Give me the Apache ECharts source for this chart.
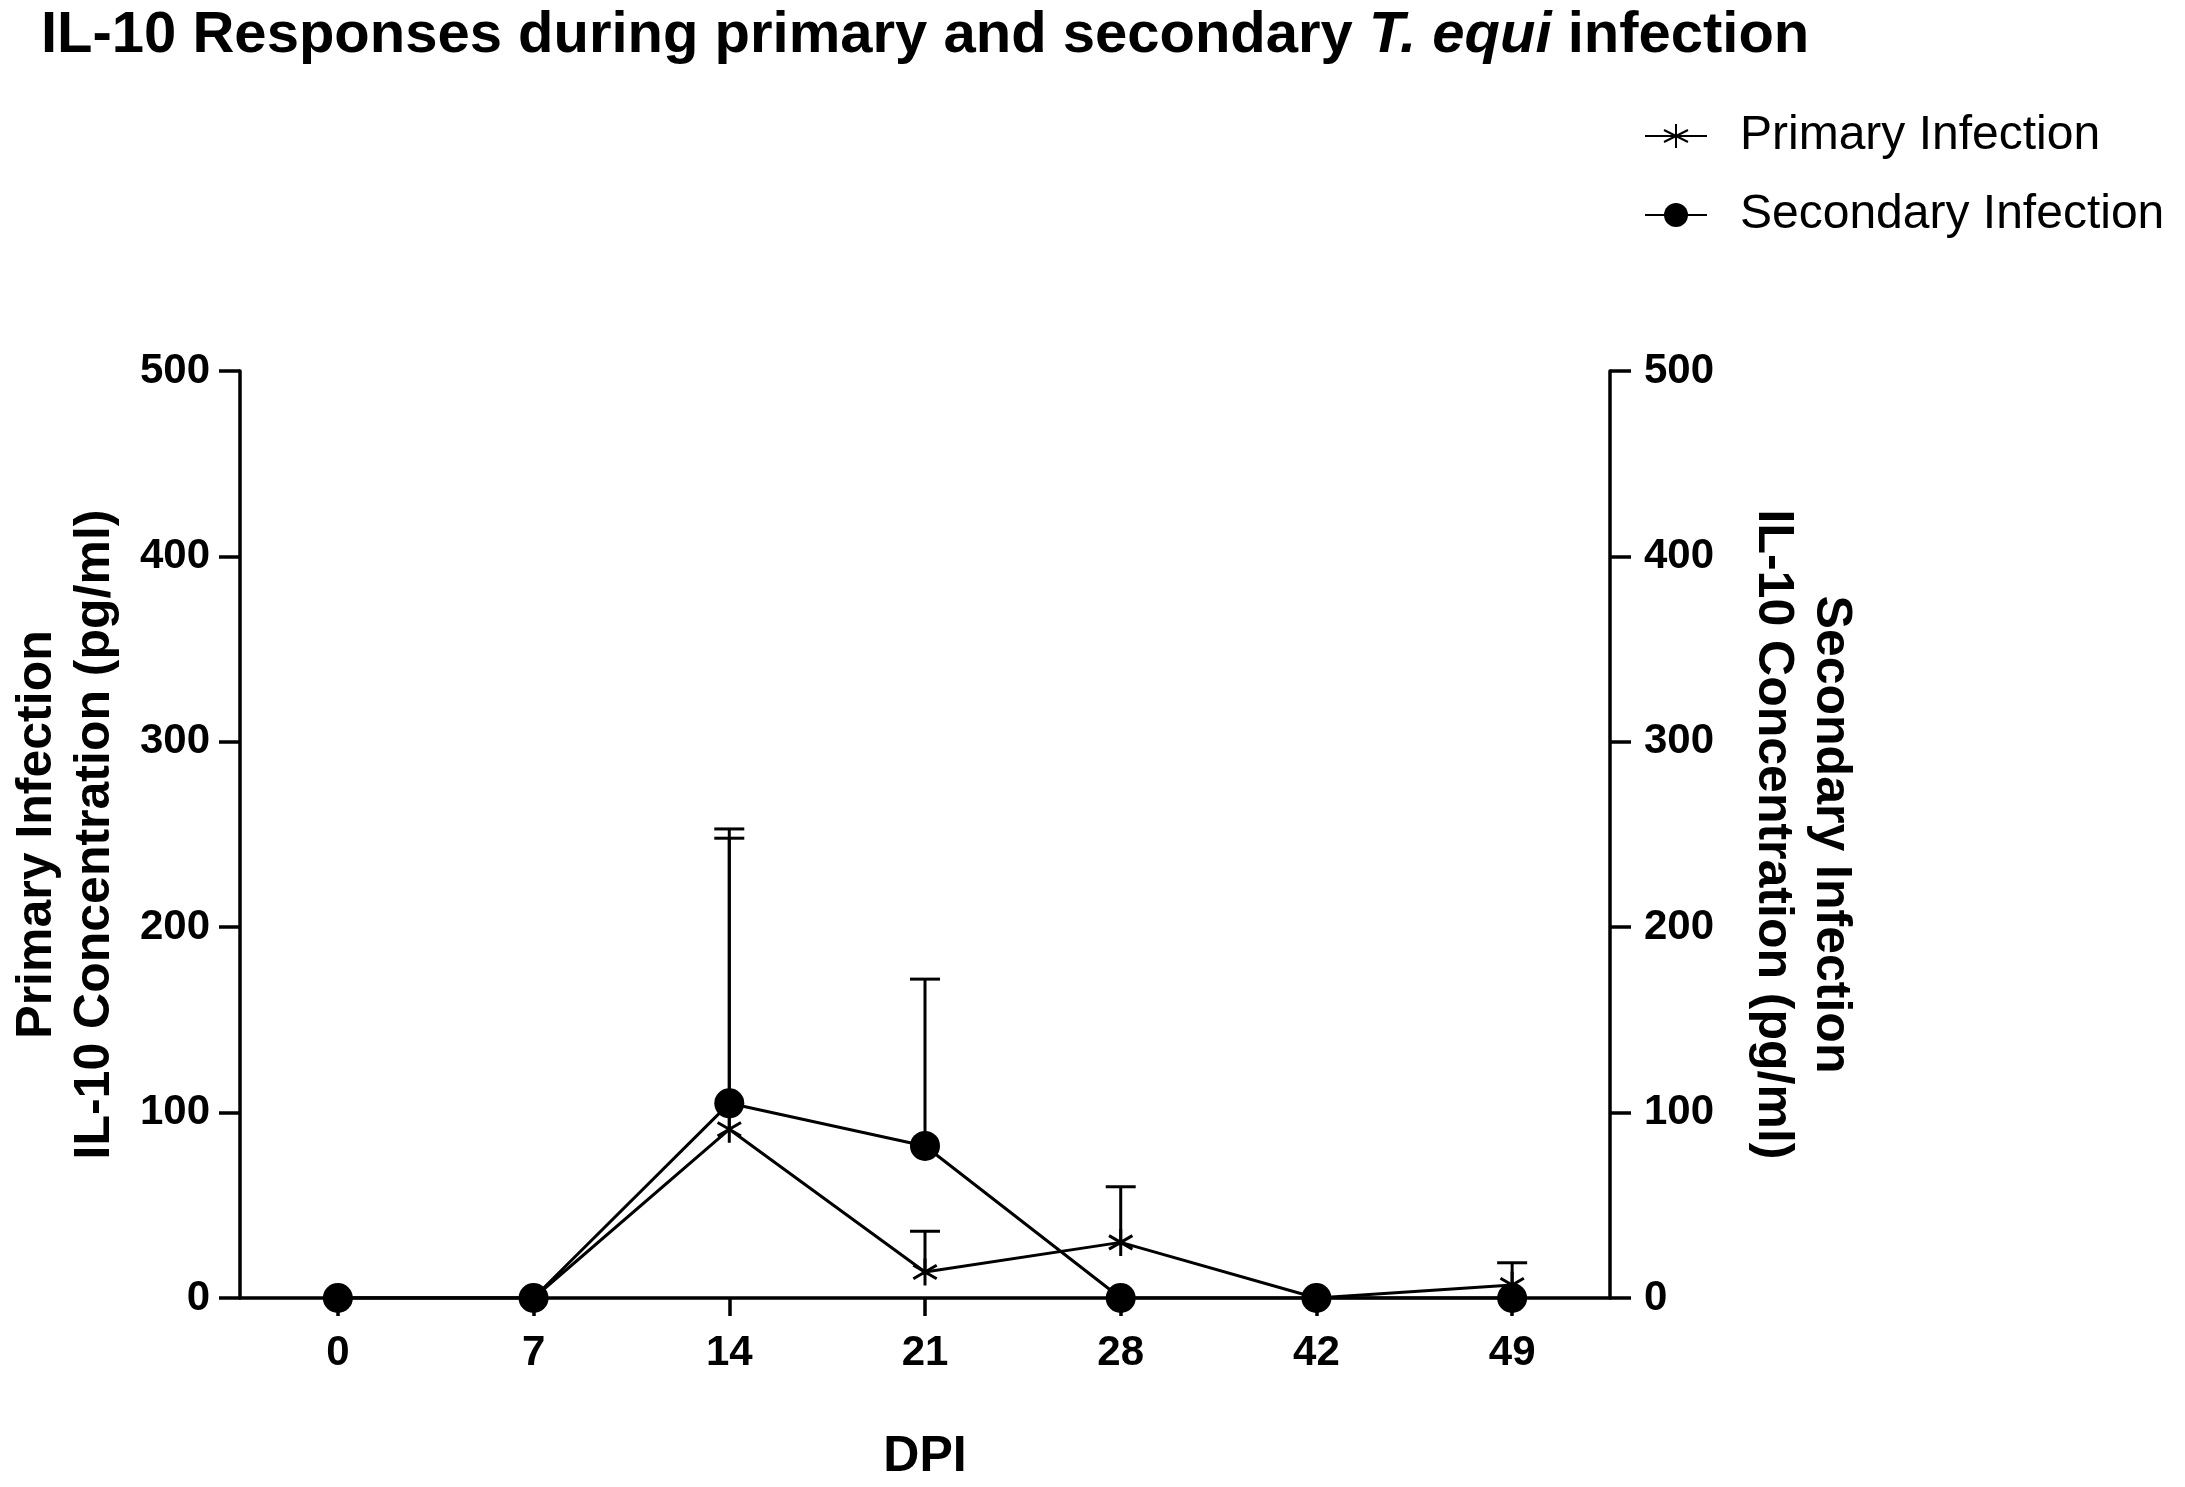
<!DOCTYPE html>
<html>
<head>
<meta charset="utf-8">
<script src="https://cdn.jsdelivr.net/npm/echarts@6/dist/echarts.min.js"></script>
<style>
  html, body { margin: 0; padding: 0; background: #fff; }
  #chart { width: 2185px; height: 1487px; }
</style>
</head>
<body>
<div id="chart"></div>
<script>
// days post infection
const dpi = ['0', '7', '14', '21', '28', '42', '49'];

// primary infection: mean and upper error (SD)
const primaryMean = [0, 0, 91, 14, 30, 0, 7];
const primaryErr = [0, 0, 162, 22, 30, 0, 12];

// secondary infection: mean and upper error (SD)
const secondaryMean = [0, 0, 105, 82, 0, 0, 0];
const secondaryErr = [0, 0, 143, 90, 0, 0, 0];

const yTicks = { min: 0, max: 500, interval: 100 };

const FONT = "'Liberation Sans', Arial, Helvetica, sans-serif";
const starPath = 'path://M10,0L10,20M1.34,5L18.66,15M1.34,15L18.66,5';

function errData(mean, err) {
  const out = [];
  mean.forEach(function (m, i) {
    if (err[i] > 0) out.push([i, m, m + err[i]]);
  });
  return out;
}

function errRender(params, api) {
  const x = api.value(0);
  const lo = api.coord([x, api.value(1)]);
  const hi = api.coord([x, api.value(2)]);
  const half = 15;
  const st = { stroke: '#000', lineWidth: 3 };
  return {
    type: 'group',
    children: [
      { type: 'line', shape: { x1: lo[0], y1: lo[1], x2: hi[0], y2: hi[1] }, style: st },
      { type: 'line', shape: { x1: hi[0] - half, y1: hi[1], x2: hi[0] + half, y2: hi[1] }, style: st }
    ]
  };
}

const chart = echarts.init(document.getElementById('chart'));

const axisCommon = {
  type: 'value',
  min: yTicks.min,
  max: yTicks.max,
  interval: yTicks.interval,
  nameLocation: 'middle',
  nameTextStyle: { fontFamily: FONT, fontWeight: 'bold', fontSize: 50, lineHeight: 58, color: '#000' },
  axisLine: { show: true, lineStyle: { color: '#000', width: 3.5 } },
  axisTick: { show: true, length: 21, lineStyle: { color: '#000', width: 3.5 } },
  axisLabel: { fontFamily: FONT, fontWeight: 'bold', fontSize: 42, color: '#000', margin: 30 },
  splitLine: { show: false }
};

chart.setOption({
  animation: false,
  backgroundColor: '#fff',
  title: {
    left: 36,
    top: 2,
    text: '{b|IL-10 Responses during primary and secondary }{i|T. equi}{b| infection}',
    textStyle: {
      rich: {
        b: { fontFamily: FONT, fontWeight: 'bold', fontSize: 58, color: '#000' },
        i: { fontFamily: FONT, fontWeight: 'bold', fontStyle: 'italic', fontSize: 58, color: '#000' }
      }
    }
  },
  legend: {
    orient: 'vertical',
    left: 1639,
    top: 106,
    itemWidth: 62,
    itemHeight: 30,
    itemGap: 29,
    data: ['Primary Infection', 'Secondary Infection'],
    textStyle: { fontFamily: FONT, fontSize: 48, color: '#000', lineHeight: 50, padding: [0, 0, 0, 28] }
  },
  grid: { left: 233, right: 575, top: 371, bottom: 179, containLabel: false },
  xAxis: {
    type: 'category',
    data: dpi,
    boundaryGap: true,
    name: 'DPI',
    nameLocation: 'middle',
    nameGap: 134,
    nameTextStyle: { fontFamily: FONT, fontWeight: 'bold', fontSize: 50, color: '#000' },
    axisLine: { show: true, lineStyle: { color: '#000', width: 3.5 } },
    axisTick: { show: true, alignWithLabel: true, length: 18, lineStyle: { color: '#000', width: 3.5 } },
    axisLabel: { fontFamily: FONT, fontWeight: 'bold', fontSize: 42, color: '#000', margin: 34 }
  },
  yAxis: [
    Object.assign({}, axisCommon, {
      position: 'left',
      name: 'Primary Infection\nIL-10 Concentration (pg/ml)',
      nameRotate: 90,
      nameGap: 116
    }),
    Object.assign({}, axisCommon, {
      position: 'right',
      name: 'Secondary Infection\nIL-10 Concentration (pg/ml)',
      nameRotate: -90,
      nameGap: 134,
      axisLabel: Object.assign({}, axisCommon.axisLabel, { margin: 34 })
    })
  ],
  series: [
    {
      name: 'primary-err',
      type: 'custom',
      yAxisIndex: 0,
      renderItem: errRender,
      data: errData(primaryMean, primaryErr),
      z: 1
    },
    {
      name: 'secondary-err',
      type: 'custom',
      yAxisIndex: 1,
      renderItem: errRender,
      data: errData(secondaryMean, secondaryErr),
      z: 1
    },
    {
      name: 'Primary Infection',
      type: 'line',
      yAxisIndex: 0,
      data: primaryMean,
      symbol: starPath,
      symbolSize: 27,
      symbolKeepAspect: true,
      showAllSymbol: true,
      lineStyle: { color: '#000', width: 3 },
      itemStyle: { color: 'rgba(0,0,0,0)', borderColor: '#000', borderWidth: 3 },
      z: 3
    },
    {
      name: 'Secondary Infection',
      type: 'line',
      yAxisIndex: 1,
      data: secondaryMean,
      symbol: 'circle',
      symbolSize: 30,
      showAllSymbol: true,
      lineStyle: { color: '#000', width: 3 },
      itemStyle: { color: '#000', borderColor: '#000', borderWidth: 0 },
      z: 4
    }
  ]
});
</script>
</body>
</html>
